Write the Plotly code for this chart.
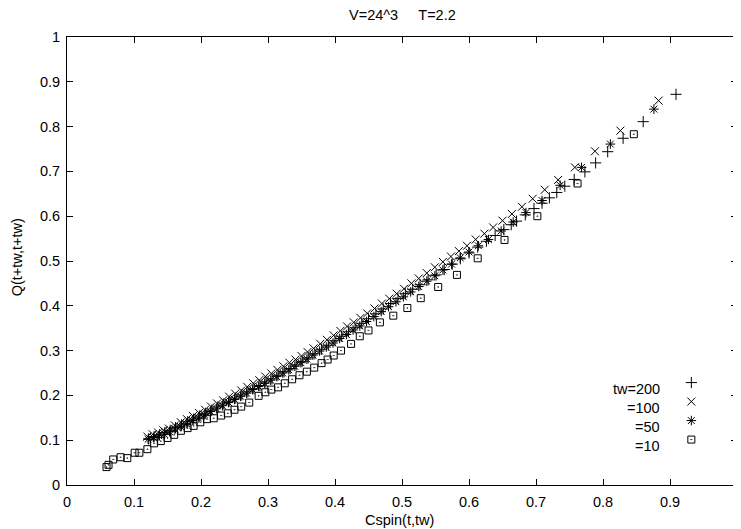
import plotly.graph_objects as go

# tw=200 (+)
x200 = [0.122, 0.130, 0.138, 0.146, 0.154, 0.162, 0.171, 0.180, 0.189, 0.198, 0.207, 0.216, 0.225, 0.234,
        0.243, 0.252, 0.261, 0.270, 0.279, 0.288, 0.297, 0.306, 0.315, 0.324, 0.333, 0.342, 0.351, 0.360,
        0.370, 0.380, 0.390, 0.400, 0.410, 0.420, 0.430, 0.440, 0.450, 0.461, 0.472, 0.483, 0.494, 0.505,
        0.516, 0.527, 0.539, 0.551, 0.563, 0.575, 0.587, 0.600, 0.613, 0.626, 0.639, 0.652, 0.663, 0.671,
        0.684, 0.697, 0.709, 0.720, 0.731, 0.743, 0.757, 0.773, 0.789, 0.807, 0.830, 0.860, 0.909]
y200 = [0.103, 0.108, 0.112, 0.117, 0.122, 0.128, 0.134, 0.141, 0.147, 0.154, 0.160, 0.167, 0.174, 0.181,
        0.187, 0.194, 0.201, 0.208, 0.215, 0.222, 0.230, 0.237, 0.245, 0.253, 0.260, 0.268, 0.276, 0.284,
        0.293, 0.303, 0.312, 0.322, 0.332, 0.342, 0.351, 0.361, 0.371, 0.382, 0.393, 0.405, 0.416, 0.427,
        0.437, 0.447, 0.458, 0.469, 0.481, 0.493, 0.505, 0.518, 0.531, 0.544, 0.557, 0.570, 0.581, 0.589,
        0.603, 0.617, 0.629, 0.641, 0.653, 0.667, 0.682, 0.699, 0.719, 0.744, 0.774, 0.811, 0.872]

# tw=100 (x)
x100 = [0.120, 0.128, 0.136, 0.144, 0.152, 0.161, 0.170, 0.179, 0.188, 0.197, 0.206, 0.215, 0.224, 0.233,
        0.242, 0.251, 0.260, 0.269, 0.278, 0.287, 0.296, 0.305, 0.314, 0.323, 0.332, 0.341, 0.350, 0.359,
        0.368, 0.378, 0.388, 0.398, 0.408, 0.418, 0.428, 0.438, 0.448, 0.459, 0.470, 0.481, 0.492, 0.503,
        0.514, 0.525, 0.537, 0.549, 0.561, 0.573, 0.585, 0.597, 0.610, 0.623, 0.636, 0.650, 0.664, 0.679,
        0.695, 0.713, 0.733, 0.758, 0.788, 0.826, 0.883]
y100 = [0.108, 0.113, 0.117, 0.122, 0.126, 0.133, 0.140, 0.147, 0.154, 0.161, 0.168, 0.175, 0.182, 0.189,
        0.197, 0.204, 0.211, 0.219, 0.227, 0.234, 0.242, 0.249, 0.257, 0.265, 0.273, 0.280, 0.288, 0.297,
        0.305, 0.315, 0.324, 0.334, 0.344, 0.354, 0.363, 0.373, 0.383, 0.394, 0.405, 0.416, 0.427, 0.438,
        0.450, 0.461, 0.473, 0.486, 0.498, 0.510, 0.522, 0.534, 0.548, 0.561, 0.575, 0.590, 0.605, 0.621,
        0.639, 0.659, 0.681, 0.709, 0.745, 0.791, 0.858]

# tw=50 (*)
x50 = [0.121, 0.129, 0.137, 0.145, 0.153, 0.161, 0.169, 0.178, 0.187, 0.196, 0.205, 0.214, 0.223, 0.232,
       0.241, 0.250, 0.259, 0.268, 0.277, 0.286, 0.295, 0.304, 0.313, 0.322, 0.331, 0.340, 0.349, 0.358,
       0.367, 0.377, 0.387, 0.397, 0.407, 0.417, 0.427, 0.437, 0.447, 0.458, 0.469, 0.480, 0.491, 0.502,
       0.513, 0.525, 0.537, 0.549, 0.561, 0.574, 0.587, 0.600, 0.614, 0.629, 0.648, 0.666, 0.685, 0.709,
       0.736, 0.768, 0.811, 0.876]
y50 = [0.102, 0.106, 0.110, 0.114, 0.119, 0.125, 0.131, 0.137, 0.144, 0.150, 0.157, 0.164, 0.170, 0.177,
       0.184, 0.191, 0.198, 0.205, 0.213, 0.220, 0.227, 0.234, 0.242, 0.250, 0.257, 0.265, 0.273, 0.281,
       0.290, 0.299, 0.308, 0.317, 0.327, 0.336, 0.346, 0.355, 0.365, 0.376, 0.387, 0.398, 0.409, 0.420,
       0.431, 0.443, 0.455, 0.467, 0.480, 0.493, 0.507, 0.520, 0.534, 0.548, 0.567, 0.587, 0.608, 0.635,
       0.669, 0.709, 0.761, 0.839]

# tw=10 (square)
x10 = [0.059, 0.062, 0.069, 0.080, 0.090, 0.101, 0.108, 0.120, 0.130, 0.140, 0.150, 0.160, 0.170, 0.180,
       0.189, 0.199, 0.209, 0.219, 0.230, 0.240, 0.250, 0.260, 0.272, 0.286, 0.296, 0.305, 0.315, 0.325,
       0.336, 0.347, 0.358, 0.369, 0.380, 0.389, 0.398, 0.409, 0.424, 0.437, 0.450, 0.467, 0.487, 0.508,
       0.528, 0.554, 0.582, 0.613, 0.653, 0.702, 0.762, 0.846]
y10 = [0.040, 0.045, 0.057, 0.062, 0.060, 0.072, 0.072, 0.080, 0.093, 0.098, 0.105, 0.112, 0.121, 0.127,
       0.132, 0.140, 0.147, 0.149, 0.155, 0.160, 0.168, 0.175, 0.184, 0.199, 0.207, 0.213, 0.218, 0.227,
       0.236, 0.245, 0.253, 0.262, 0.272, 0.280, 0.289, 0.300, 0.315, 0.332, 0.345, 0.363, 0.378, 0.395,
       0.417, 0.442, 0.469, 0.506, 0.547, 0.600, 0.673, 0.783]

legend_labels = ["tw=200", "=100", "=50", "=10"]
title_text = "V=24^3\u00a0\u00a0\u00a0\u00a0\u00a0T=2.2"
x_title = "Cspin(t,tw)"
y_title = "Q(t+tw,t+tw)"
ticks = [0, 0.1, 0.2, 0.3, 0.4, 0.5, 0.6, 0.7, 0.8, 0.9, 1]
tick_text = ["0", "0.1", "0.2", "0.3", "0.4", "0.5", "0.6", "0.7", "0.8", "0.9", "1"]

FONT = "Liberation Sans, Arial, sans-serif"
FS = 14.5
series = [
    (x200, y200, "cross-thin", 8),
    (x100, y100, "x-thin", 8),
    (x50, y50, "asterisk-open", 8),
    (x10, y10, "square-open-dot", 7),
]

fig = go.Figure()
for (xs, ys, sym, sz) in series:
    fig.add_trace(go.Scatter(
        x=xs, y=ys, mode="markers", name=" ",
        marker=dict(symbol=sym, size=sz, color="black", line=dict(color="black", width=1)),
        showlegend=True,
    ))

axis_common = dict(
    range=[0, 1], tickvals=ticks, ticktext=tick_text, ticks="inside", ticklen=6,
    tickwidth=1, tickcolor="black", showline=True, linecolor="black", linewidth=1,
    mirror="ticks", showgrid=False, zeroline=False, ticklabeloverflow="allow",
    tickfont=dict(family=FONT, size=FS, color="black"),
)

# plot area in viewport px: x 67..741, y 37..485 (page body has an 8px margin)
PH = 448.0


def py(v):
    return (485 - v) / PH


fig.update_layout(
    width=733, height=521,
    margin=dict(l=59, r=0, t=29, b=44),
    paper_bgcolor="white", plot_bgcolor="white",
    xaxis=dict(axis_common, ticklabelstandoff=4),
    yaxis=dict(axis_common, ticklabelstandoff=3),
    showlegend=True,
    legend=dict(x=0.902, y=0.261, xanchor="left", yanchor="top", bgcolor="rgba(0,0,0,0)",
                font=dict(family=FONT, size=10), itemwidth=30, tracegroupgap=0),
    annotations=[
        dict(text=title_text, x=0.5, y=py(15), xref="paper", yref="paper", showarrow=False,
             font=dict(family=FONT, size=FS, color="black"), xanchor="center", yanchor="middle"),
        dict(text=x_title, x=(401 - 67) / 674, y=py(520), xref="paper", yref="paper", showarrow=False,
             font=dict(family=FONT, size=FS, color="black"), xanchor="center", yanchor="middle"),
        dict(text=y_title, x=(17 - 67) / 674, y=py(257), xref="paper", yref="paper", showarrow=False,
             textangle=-90, font=dict(family=FONT, size=FS, color="black"),
             xanchor="center", yanchor="middle"),
    ] + [
        dict(text=lab, x=(666 - 67) / 674, y=py(yy), xref="paper", yref="paper", showarrow=False,
             font=dict(family=FONT, size=FS, color="black"), xanchor="right", yanchor="middle")
        for lab, yy in zip(legend_labels, [389, 408, 427, 446])
    ],
)

fig.write_html("out.html")
